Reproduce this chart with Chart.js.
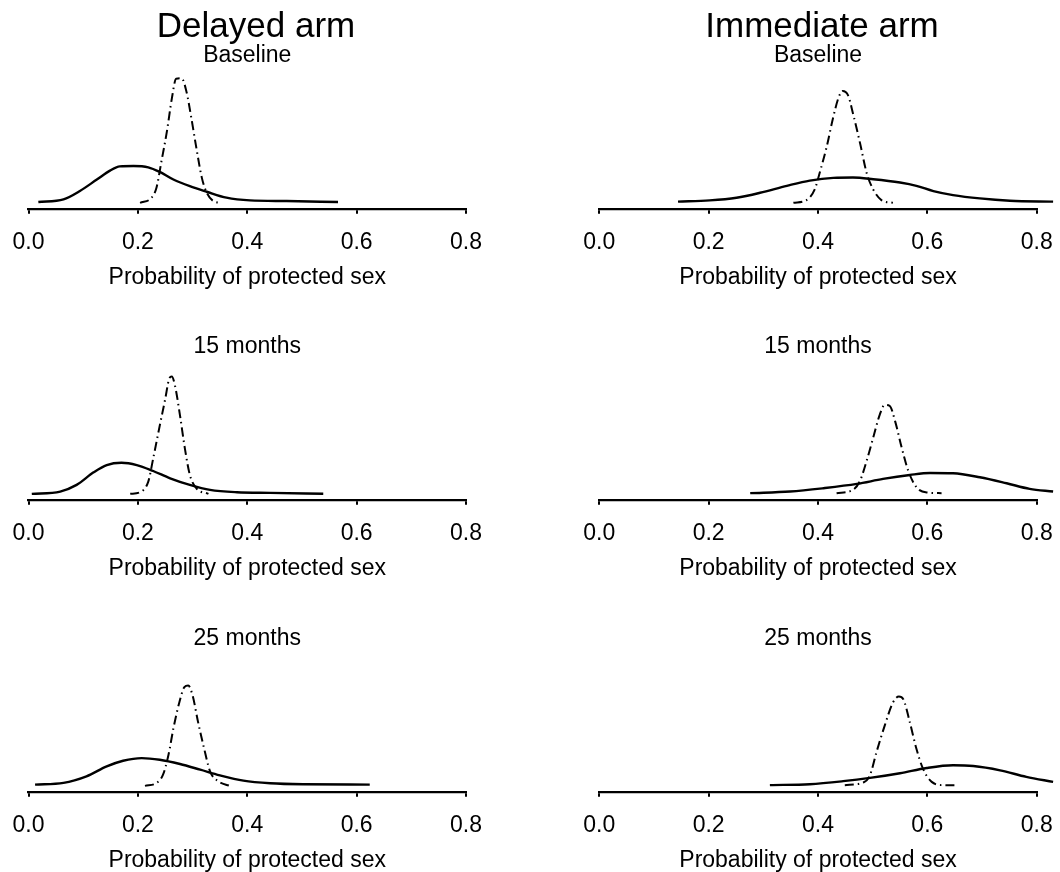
<!DOCTYPE html>
<html>
<head>
<meta charset="utf-8">
<script src="https://cdn.jsdelivr.net/npm/chart.js@4.4.1/dist/chart.umd.min.js"></script>
<style>
  body { margin: 0; background: #fff; width: 1060px; height: 872px; position: relative; overflow: hidden; font-family: "Liberation Sans", Arial, sans-serif; }
  .arm { position: absolute; top: 4px; width: 530px; text-align: center; font-size: 35px; line-height: 42px; color: #000; z-index: 2; }
  canvas { position: absolute; }
</style>
</head>
<body>
<div class="arm" id="armLeft" style="left:-9px"></div>
<div class="arm" id="armRight" style="left:557px"></div>
<canvas id="p00" width="533" height="292" style="left:-3px;top:0"></canvas>
<canvas id="p01" width="540" height="292" style="left:530px;top:0"></canvas>
<canvas id="p10" width="533" height="292" style="left:-3px;top:291px"></canvas>
<canvas id="p11" width="540" height="292" style="left:530px;top:291px"></canvas>
<canvas id="p20" width="533" height="292" style="left:-3px;top:583px"></canvas>
<canvas id="p21" width="540" height="292" style="left:530px;top:583px"></canvas>
<script>
const armTitles = ["Delayed arm", "Immediate arm"];
const panelTitles = ["Baseline", "15 months", "25 months"];
const xTitle = "Probability of protected sex";
const tickValues = [0, 0.2, 0.4, 0.6, 0.8];

// density curves (solid and dot-dash)
const delayedBaseSolidX = [0.018, 0.064, 0.094, 0.125, 0.149, 0.167, 0.192, 0.219, 0.240, 0.265, 0.295, 0.326, 0.362, 0.405, 0.472, 0.566];
const delayedBaseSolidY = [0.1, 0.44, 1.5, 2.94, 4.06, 4.6, 4.65, 4.48, 3.9, 2.94, 2.1, 1.4, 0.65, 0.31, 0.23, 0.1];
const delayedBaseDashX = [0.204, 0.225, 0.234, 0.243, 0.253, 0.262, 0.270, 0.280, 0.289, 0.298, 0.307, 0.317, 0.326, 0.338, 0.353];
const delayedBaseDashY = [0, 0.65, 1.9, 5.2, 8.97, 13.1, 15.65, 15.7, 13.97, 10.6, 6.9, 3.15, 1.27, 0.23, 0];

const immBaseSolidX = [0.144, 0.202, 0.251, 0.294, 0.343, 0.385, 0.428, 0.464, 0.501, 0.550, 0.580, 0.611, 0.647, 0.696, 0.751, 0.830];
const immBaseSolidY = [0.15, 0.31, 0.65, 1.27, 2.15, 2.81, 3.15, 3.19, 2.98, 2.56, 2.15, 1.48, 0.98, 0.56, 0.27, 0.15];
const immBaseDashX = [0.355, 0.379, 0.394, 0.403, 0.416, 0.428, 0.438, 0.445, 0.455, 0.464, 0.477, 0.489, 0.501, 0.516, 0.537];
const immBaseDashY = [0, 0.35, 1.69, 3.77, 7.1, 10.85, 13.35, 14.1, 13.56, 11.27, 7.5, 3.77, 1.69, 0.35, 0];

const delayed15SolidX = [0.006, 0.058, 0.088, 0.119, 0.143, 0.170, 0.198, 0.228, 0.259, 0.295, 0.332, 0.381, 0.442, 0.539];
const delayed15SolidY = [0, 0.29, 1.13, 2.71, 3.63, 3.92, 3.63, 2.88, 1.96, 1.13, 0.5, 0.2, 0.12, 0.02];
const delayed15DashX = [0.186, 0.204, 0.219, 0.228, 0.240, 0.250, 0.257, 0.262, 0.268, 0.277, 0.286, 0.295, 0.307, 0.329];
const delayed15DashY = [0, 0.21, 1.54, 4.46, 8.6, 11.96, 14.46, 14.8, 13.6, 9.9, 5.7, 2.4, 0.7, 0];

const imm15SolidX = [0.276, 0.349, 0.410, 0.471, 0.519, 0.568, 0.605, 0.647, 0.696, 0.745, 0.787, 0.830];
const imm15SolidY = [0.09, 0.29, 0.71, 1.25, 1.88, 2.38, 2.63, 2.59, 2.09, 1.34, 0.63, 0.3];
const imm15DashX = [0.434, 0.464, 0.477, 0.489, 0.501, 0.513, 0.522, 0.531, 0.541, 0.553, 0.565, 0.580, 0.599, 0.626];
const imm15DashY = [0.09, 0.5, 1.67, 4.17, 7.09, 10, 11.2, 11.1, 9.17, 5.84, 2.92, 0.84, 0.17, 0.09];

const delayed25SolidX = [0.012, 0.064, 0.106, 0.143, 0.173, 0.207, 0.240, 0.277, 0.314, 0.350, 0.393, 0.442, 0.502, 0.624];
const delayed25SolidY = [0.16, 0.37, 1.2, 2.45, 3.16, 3.5, 3.29, 2.75, 2.04, 1.33, 0.66, 0.33, 0.2, 0.16];
const delayed25DashX = [0.213, 0.234, 0.246, 0.256, 0.265, 0.276, 0.285, 0.292, 0.300, 0.310, 0.321, 0.332, 0.347, 0.368];
const delayed25DashY = [0, 0.37, 1.41, 3.91, 7.25, 10.57, 12.45, 12.66, 11.41, 8.07, 4.75, 1.83, 0.58, 0];

const imm25SolidX = [0.312, 0.385, 0.446, 0.495, 0.550, 0.599, 0.647, 0.684, 0.733, 0.781, 0.830];
const imm25SolidY = [0.09, 0.21, 0.59, 1.0, 1.59, 2.25, 2.59, 2.5, 1.96, 1.13, 0.5];
const imm25DashX = [0.449, 0.483, 0.495, 0.507, 0.522, 0.537, 0.548, 0.556, 0.568, 0.580, 0.592, 0.608, 0.629, 0.656];
const imm25DashY = [0.09, 0.42, 1.34, 4.25, 7.59, 10.5, 11.25, 10.92, 8, 4.67, 2.17, 0.5, 0.09, 0.09];

const FONT = '"Liberation Sans", Arial, Helvetica, sans-serif';

document.getElementById("armLeft").textContent = armTitles[0];
document.getElementById("armRight").textContent = armTitles[1];

function toPoints(xs, ys) {
  return xs.map((x, i) => ({ x: x, y: ys[i] }));
}

function makePanel(id, title, solidX, solidY, dashX, dashY, right) {
  const ctx = document.getElementById(id).getContext("2d");
  new Chart(ctx, {
    type: "line",
    data: {
      datasets: [
        {
          data: toPoints(solidX, solidY),
          borderColor: "#000",
          borderWidth: 2.4,
          pointRadius: 0,
          fill: false,
          cubicInterpolationMode: "monotone",
          clip: false,
        },
        {
          data: toPoints(dashX, dashY),
          borderColor: "#000",
          borderWidth: 2,
          borderDash: [9, 4, 1.5, 4],
          pointRadius: 0,
          fill: false,
          cubicInterpolationMode: "monotone",
          clip: false,
        },
      ],
    },
    options: {
      responsive: false,
      animation: false,
      devicePixelRatio: 1,
      layout: {
        padding: right
          ? { left: 69.3, right: 33.3, top: 0, bottom: 1 }
          : { left: 31.5, right: 64, top: 0, bottom: 1 },
      },
      plugins: {
        legend: { display: false },
        tooltip: { enabled: false },
        title: {
          display: true,
          text: title,
          fullSize: false,
          color: "#000",
          font: { family: FONT, size: 23, weight: "normal" },
          padding: { top: 42, bottom: 0 },
        },
      },
      scales: {
        x: {
          type: "linear",
          min: 0,
          max: 0.8,
          afterBuildTicks: (scale) => {
            scale.ticks = tickValues.map((v) => ({ value: v }));
          },
          ticks: {
            color: "#000",
            padding: 15,
            autoSkip: false,
            maxRotation: 0,
            font: { family: FONT, size: 23 },
            callback: (v) => Number(v).toFixed(1),
          },
          grid: {
            display: true,
            drawOnChartArea: false,
            drawTicks: true,
            tickLength: 5,
            color: "#000",
            lineWidth: 2,
          },
          border: { display: true, color: "#000", width: 2.2 },
          title: {
            display: true,
            text: xTitle,
            color: "#000",
            font: { family: FONT, size: 23 },
            padding: { top: -8, bottom: 0 },
          },
        },
        y: { display: false, min: -0.75, max: 16.8 },
      },
    },
  });
}

makePanel("p00", panelTitles[0], delayedBaseSolidX, delayedBaseSolidY, delayedBaseDashX, delayedBaseDashY, false);
makePanel("p01", panelTitles[0], immBaseSolidX, immBaseSolidY, immBaseDashX, immBaseDashY, true);
makePanel("p10", panelTitles[1], delayed15SolidX, delayed15SolidY, delayed15DashX, delayed15DashY, false);
makePanel("p11", panelTitles[1], imm15SolidX, imm15SolidY, imm15DashX, imm15DashY, true);
makePanel("p20", panelTitles[2], delayed25SolidX, delayed25SolidY, delayed25DashX, delayed25DashY, false);
makePanel("p21", panelTitles[2], imm25SolidX, imm25SolidY, imm25DashX, imm25DashY, true);
</script>
</body>
</html>
